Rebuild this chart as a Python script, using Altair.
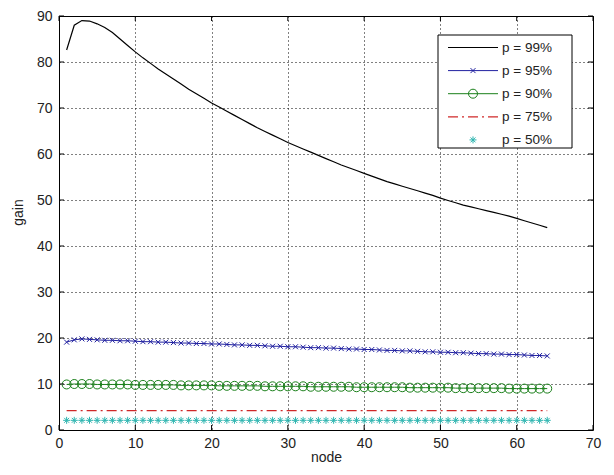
import altair as alt
import pandas as pd

nodes = list(range(1, 65))

p99 = [82.6, 88.0, 89.0, 88.9, 88.3, 87.5, 86.4, 85.0, 83.6, 82.2,
       80.9, 79.7, 78.5, 77.4, 76.3, 75.2, 74.1, 73.1, 72.1, 71.1,
       70.2, 69.3, 68.4, 67.5, 66.6, 65.7, 64.9, 64.1, 63.3, 62.5,
       61.8, 61.1, 60.4, 59.7, 59.0, 58.3, 57.6, 57.0, 56.4, 55.8,
       55.2, 54.6, 54.0, 53.5, 53.0, 52.5, 52.0, 51.5, 51.0, 50.4,
       49.9, 49.4, 48.9, 48.5, 48.1, 47.7, 47.3, 46.9, 46.5, 46.0,
       45.5, 45.0, 44.5, 44.0]

p95 = [19.1, 19.6, 19.8, 19.7, 19.6, 19.5, 19.5, 19.4, 19.4, 19.3,
       19.2, 19.2, 19.1, 19.1, 19.0, 18.9, 18.9, 18.8, 18.8, 18.7,
       18.7, 18.6, 18.5, 18.5, 18.4, 18.4, 18.3, 18.2, 18.2, 18.1,
       18.1, 18.0, 17.9, 17.9, 17.8, 17.8, 17.7, 17.6, 17.6, 17.5,
       17.5, 17.4, 17.3, 17.3, 17.2, 17.2, 17.1, 17.0, 17.0, 16.9,
       16.9, 16.8, 16.8, 16.7, 16.6, 16.6, 16.5, 16.5, 16.4, 16.4,
       16.3, 16.2, 16.2, 16.1]

p90 = [9.9, 10.0, 10.0, 10.0, 9.9, 9.9, 9.9, 9.9, 9.9, 9.8,
       9.8, 9.8, 9.8, 9.8, 9.8, 9.7, 9.7, 9.7, 9.7, 9.7,
       9.6, 9.6, 9.6, 9.6, 9.6, 9.6, 9.5, 9.5, 9.5, 9.5,
       9.5, 9.5, 9.4, 9.4, 9.4, 9.4, 9.4, 9.4, 9.3, 9.3,
       9.3, 9.3, 9.3, 9.3, 9.3, 9.2, 9.2, 9.2, 9.2, 9.2,
       9.2, 9.1, 9.1, 9.1, 9.1, 9.1, 9.1, 9.1, 9.0, 9.0,
       9.0, 9.0, 9.0, 9.0]

p75 = [4.2, 4.2, 4.2, 4.2, 4.2, 4.2, 4.2, 4.2, 4.2, 4.2,
       4.2, 4.2, 4.2, 4.2, 4.2, 4.2, 4.2, 4.2, 4.2, 4.2,
       4.2, 4.2, 4.2, 4.2, 4.2, 4.2, 4.2, 4.2, 4.2, 4.2,
       4.2, 4.2, 4.2, 4.2, 4.2, 4.2, 4.2, 4.2, 4.2, 4.2,
       4.2, 4.2, 4.2, 4.2, 4.2, 4.2, 4.2, 4.2, 4.2, 4.2,
       4.2, 4.2, 4.2, 4.2, 4.2, 4.2, 4.2, 4.2, 4.2, 4.2,
       4.2, 4.2, 4.2, 4.2]

p50 = [2.1, 2.1, 2.1, 2.1, 2.1, 2.1, 2.1, 2.1, 2.1, 2.1,
       2.1, 2.1, 2.1, 2.1, 2.1, 2.1, 2.1, 2.1, 2.1, 2.1,
       2.1, 2.1, 2.1, 2.1, 2.1, 2.1, 2.1, 2.1, 2.1, 2.1,
       2.1, 2.1, 2.1, 2.1, 2.1, 2.1, 2.1, 2.1, 2.1, 2.1,
       2.1, 2.1, 2.1, 2.1, 2.1, 2.1, 2.1, 2.1, 2.1, 2.1,
       2.1, 2.1, 2.1, 2.1, 2.1, 2.1, 2.1, 2.1, 2.1, 2.1,
       2.1, 2.1, 2.1, 2.1]

x_ticks = [0, 10, 20, 30, 40, 50, 60, 70]
y_ticks = [0, 10, 20, 30, 40, 50, 60, 70, 80, 90]
legend_labels = ["p = 99%", "p = 95%", "p = 90%", "p = 75%", "p = 50%"]

W, H = 534, 414
FONT = "Liberation Sans"
BLACK = "#000000"
BLUE = "#2020a0"
GREEN = "#1a801a"
RED = "#d02828"
CYAN = "#2db5b0"
X_PATH = "M-1,-1L1,1M-1,1L1,-1"
STAR_PATH = "M-1,0L1,0M0,-1L0,1M-0.7,-0.7L0.7,0.7M-0.7,0.7L0.7,-0.7"

x_enc = alt.X(
    "node:Q",
    scale=alt.Scale(domain=[0, 70], nice=False, zero=False),
    axis=alt.Axis(values=x_ticks, title="node", grid=True, gridDash=[1, 3],
                  gridColor=BLACK, gridWidth=1, ticks=False, domain=False,
                  labelFlush=False, labelOverlap=False, labelPadding=6,
                  titleY=31, titleBaseline="alphabetic", format="d"),
)
y_enc = alt.Y(
    "gain:Q",
    scale=alt.Scale(domain=[0, 90], nice=False, zero=False),
    axis=alt.Axis(values=y_ticks, title="gain", grid=True, gridDash=[1, 3],
                  gridColor=BLACK, gridWidth=1, ticks=False, domain=False,
                  labelFlush=False, labelOverlap=False, labelPadding=7,
                  titleX=-37, titleY=196, titleBaseline="alphabetic",
                  format="d"),
)


def series_df(vals):
    return pd.DataFrame({"node": nodes, "gain": vals})


layers = []
layers.append(alt.Chart(series_df(p99)).mark_line(color=BLACK, strokeWidth=1.2).encode(x=x_enc, y=y_enc))
layers.append(alt.Chart(series_df(p95)).mark_line(color=BLUE, strokeWidth=1).encode(x=x_enc, y=y_enc))
layers.append(alt.Chart(series_df(p95)).mark_point(shape=X_PATH, filled=False, color=BLUE, size=25, strokeWidth=1, opacity=1).encode(x=x_enc, y=y_enc))
layers.append(alt.Chart(series_df(p90)).mark_line(color=GREEN, strokeWidth=1).encode(x=x_enc, y=y_enc))
layers.append(alt.Chart(series_df(p90)).mark_point(shape="circle", filled=False, color=GREEN, size=81, strokeWidth=1, opacity=1).encode(x=x_enc, y=y_enc))
layers.append(alt.Chart(series_df(p75)).mark_line(color=RED, strokeWidth=1.2, strokeDash=[10, 4, 2, 4]).encode(x=x_enc, y=y_enc))
layers.append(alt.Chart(series_df(p50)).mark_point(shape=STAR_PATH, filled=False, color=CYAN, size=49, strokeWidth=1, opacity=1).encode(x=x_enc, y=y_enc))

# inward tick marks on all four sides
xt = pd.DataFrame({"node": x_ticks})
yt = pd.DataFrame({"gain": y_ticks})
TL = 5
layers.append(alt.Chart(xt).mark_rule(color=BLACK, strokeWidth=1).encode(x=x_enc, y=alt.value(H), y2=alt.value(H - TL)))
layers.append(alt.Chart(xt).mark_rule(color=BLACK, strokeWidth=1).encode(x=x_enc, y=alt.value(0), y2=alt.value(TL)))
layers.append(alt.Chart(yt).mark_rule(color=BLACK, strokeWidth=1).encode(y=y_enc, x=alt.value(0), x2=alt.value(TL)))
layers.append(alt.Chart(yt).mark_rule(color=BLACK, strokeWidth=1).encode(y=y_enc, x=alt.value(W), x2=alt.value(W - TL)))

# legend box
one = pd.DataFrame({"k": [0]})
LX0, LX1, LY0, LY1 = 379, 513, 19, 132
layers.append(alt.Chart(one).mark_rect(fill="white", stroke=BLACK, strokeWidth=1).encode(
    x=alt.value(LX0), x2=alt.value(LX1), y=alt.value(LY0), y2=alt.value(LY1)))

row_y = [31.5 + 23.1 * i for i in range(5)]
line_x0, line_x1, mark_x, text_x = 389, 439, 414, 443

# p = 99%
layers.append(alt.Chart(one).mark_rule(color=BLACK, strokeWidth=1.2).encode(
    x=alt.value(line_x0), x2=alt.value(line_x1), y=alt.value(row_y[0])))
# p = 95%
layers.append(alt.Chart(one).mark_rule(color=BLUE, strokeWidth=1).encode(
    x=alt.value(line_x0), x2=alt.value(line_x1), y=alt.value(row_y[1])))
layers.append(alt.Chart(one).mark_point(shape=X_PATH, filled=False, color=BLUE, size=25, strokeWidth=1, opacity=1).encode(
    x=alt.value(mark_x), y=alt.value(row_y[1])))
# p = 90%
layers.append(alt.Chart(one).mark_rule(color=GREEN, strokeWidth=1).encode(
    x=alt.value(line_x0), x2=alt.value(line_x1), y=alt.value(row_y[2])))
layers.append(alt.Chart(one).mark_point(shape="circle", filled=False, color=GREEN, size=81, strokeWidth=1, opacity=1).encode(
    x=alt.value(mark_x), y=alt.value(row_y[2])))
# p = 75%
layers.append(alt.Chart(one).mark_rule(color=RED, strokeWidth=1.2, strokeDash=[10, 4, 2, 4]).encode(
    x=alt.value(line_x0), x2=alt.value(line_x1), y=alt.value(row_y[3])))
# p = 50%
layers.append(alt.Chart(one).mark_point(shape=STAR_PATH, filled=False, color=CYAN, size=49, strokeWidth=1, opacity=1).encode(
    x=alt.value(mark_x), y=alt.value(row_y[4])))

for lbl, ry in zip(legend_labels, row_y):
    layers.append(alt.Chart(one).mark_text(align="left", baseline="middle", font=FONT, fontSize=13.5, color="#222").encode(
        x=alt.value(text_x), y=alt.value(ry), text=alt.value(lbl)))

chart = alt.layer(*layers).properties(
    width=W, height=H,
    padding={"left": 51, "top": 8, "right": 13, "bottom": 36},
    autosize=alt.AutoSizeParams(type="none"),
    background="white",
).configure_view(
    stroke=BLACK, strokeWidth=1
).configure_axis(
    labelFont=FONT, titleFont=FONT, labelFontSize=14, titleFontSize=14,
    labelColor="#222", titleColor="#222", titleFontWeight="normal",
)

chart.save("out.html", embed_options={"renderer": "svg", "actions": False})
